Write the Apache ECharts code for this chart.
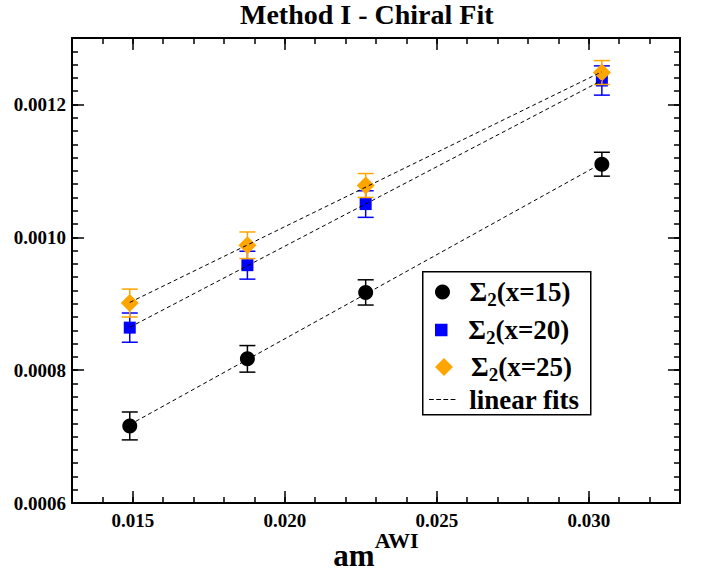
<!DOCTYPE html>
<html>
<head>
<meta charset="utf-8">
<script src="https://cdn.jsdelivr.net/npm/echarts@6/dist/echarts.min.js"></script>
<style>
  html, body { margin: 0; padding: 0; background: #fff; }
  #chart { width: 702px; height: 573px; }
</style>
</head>
<body>
<div id="chart"></div>
<script>
// ---- data ----
const xValues = [0.01490, 0.01877, 0.02266, 0.03043];

const sigma15 = [0.000716, 0.000817, 0.000917, 0.001110];
const err15   = [0.000021, 0.000020, 0.000019, 0.000018];

const sigma20 = [0.000864, 0.000958, 0.001050, 0.001236];
const err20   = [0.000022, 0.000021, 0.000020, 0.000022];

const sigma25 = [0.000901, 0.000988, 0.001078, 0.001248];
const err25   = [0.000021, 0.000020, 0.000018, 0.000018];

const seriesNames = ['Σ2(x=15)', 'Σ2(x=20)', 'Σ2(x=25)'];
const fitName = 'linear fits';

const xTickLabels = [0.015, 0.020, 0.025, 0.030];
const yTickLabels = [0.0006, 0.0008, 0.0010, 0.0012];

const titleText = 'Method I - Chiral Fit';

// ---- helpers ----
const FONT = "'Liberation Serif', 'Times New Roman', serif";
const xMin = 0.013, xMax = 0.033, yMin = 0.0006, yMax = 0.0013;

const xMinor = [];
for (let i = 0; i <= 20; i++) xMinor.push(+(xMin + i * 0.001).toFixed(4));
const yMinor = [];
for (let i = 0; i <= 35; i++) yMinor.push(+(yMin + i * 0.00002).toFixed(6));

function linFit(xs, ys) {
  const n = xs.length;
  let sx = 0, sy = 0, sxx = 0, sxy = 0;
  for (let i = 0; i < n; i++) { sx += xs[i]; sy += ys[i]; sxx += xs[i] * xs[i]; sxy += xs[i] * ys[i]; }
  const b = (n * sxy - sx * sy) / (n * sxx - sx * sx);
  const a = (sy - b * sx) / n;
  return [a, b];
}

const sets = [
  { name: seriesNames[0], y: sigma15, e: err15, color: '#000000', symbol: 'circle', size: 15, icon: 'circle', iconH: 15 },
  { name: seriesNames[1], y: sigma20, e: err20, color: '#0000ff', symbol: 'rect', size: 12, icon: 'path://M0,0h10v10h-10z', iconH: 12.5 },
  { name: seriesNames[2], y: sigma25, e: err25, color: '#ffa500', symbol: 'diamond', size: 18, icon: 'path://M5,0L10,5L5,10L0,5z', iconH: 18 }
];

const series = [];
sets.forEach(function (s, k) {
  series.push({
    type: 'custom',
    name: 'err' + k,
    xAxisIndex: 0, yAxisIndex: 0,
    z: 2 + k * 2,
    silent: true,
    data: xValues.map(function (x, i) { return [x, s.y[i], s.e[i]]; }),
    encode: { x: 0, y: 1 },
    renderItem: function (params, api) {
      const x = api.value(0), y = api.value(1), e = api.value(2);
      const top = api.coord([x, y + e]);
      const bot = api.coord([x, y - e]);
      const hw = 8;
      const st = { stroke: s.color, lineWidth: 1.5 };
      return {
        type: 'group',
        children: [
          { type: 'line', shape: { x1: top[0], y1: top[1], x2: bot[0], y2: bot[1] }, style: st },
          { type: 'line', shape: { x1: top[0] - hw, y1: top[1], x2: top[0] + hw, y2: top[1] }, style: st },
          { type: 'line', shape: { x1: bot[0] - hw, y1: bot[1], x2: bot[0] + hw, y2: bot[1] }, style: st }
        ]
      };
    }
  });
  series.push({
    type: 'scatter',
    name: s.name,
    xAxisIndex: 0, yAxisIndex: 0,
    z: 3 + k * 2,
    symbol: s.symbol,
    symbolSize: s.size,
    itemStyle: { color: s.color, opacity: 1 },
    data: xValues.map(function (x, i) { return [x, s.y[i]]; })
  });
});
sets.forEach(function (s) {
  const ab = linFit(xValues, s.y);
  const x0 = xValues[0], x1 = xValues[xValues.length - 1];
  series.push({
    type: 'line',
    name: fitName,
    xAxisIndex: 0, yAxisIndex: 0,
    z: 10,
    symbol: 'none',
    silent: true,
    itemStyle: { color: '#000' },
    lineStyle: { color: '#000', width: 1, type: [4, 3] },
    data: [[x0, ab[0] + ab[1] * x0], [x1, ab[0] + ab[1] * x1]]
  });
});

const legendRich = {
  m: { fontFamily: FONT, fontWeight: 'bold', fontSize: 27, color: '#000', lineHeight: 28 },
  sub: { fontFamily: FONT, fontWeight: 'bold', fontSize: 19, color: '#000', lineHeight: 19, padding: [15, 0, 0, 0] }
};
function legendFormatter(name) {
  if (name.indexOf('Σ2') === 0) return '{m|Σ}{sub|2}{m|' + name.slice(2) + '}';
  return '{m|' + name + '}';
}
const rowCenters = [292, 330, 367, 400];
const legends = sets.map(function (s, k) {
  return {
    data: [{ name: s.name, icon: s.icon }],
    left: 435, top: rowCenters[k] - 17, padding: 0,
    itemWidth: 44, itemHeight: s.iconH,
    selectedMode: false,
    textStyle: { rich: legendRich },
    formatter: legendFormatter
  };
});
legends.push({
  data: [{ name: fitName, icon: 'path://M0,0h4v1h-4zM6,0h4v1h-4zM12,0h4v1h-4zM18,0h4v1h-4z' }],
  left: 429, top: rowCenters[3] - 14, padding: 0,
  itemWidth: 44, itemHeight: 1.2,
  selectedMode: false,
  textStyle: { rich: legendRich },
  formatter: legendFormatter
});

const labelFont = { fontFamily: FONT, fontWeight: 'bold', fontSize: 19, color: '#000' };
const axisLineStyle = { color: '#000', width: 2 };
const majorTick = { color: '#000', width: 1.5 };

function xAxisDef(grid, pos, major) {
  return {
    gridIndex: grid, type: 'value', position: pos, min: xMin, max: xMax,
    axisLine: { show: major, onZero: false, lineStyle: axisLineStyle },
    axisTick: { show: true, inside: true, length: major ? 12 : 6, customValues: major ? xTickLabels : xMinor, lineStyle: majorTick },
    axisLabel: Object.assign({ show: major && pos === 'bottom', customValues: xTickLabels, margin: 8,
      formatter: function (v) { return v.toFixed(3); } }, labelFont),
    splitLine: { show: false }
  };
}
function yAxisDef(grid, pos, major) {
  return {
    gridIndex: grid, type: 'value', position: pos, min: yMin, max: yMax,
    axisLine: { show: major, onZero: false, lineStyle: axisLineStyle },
    axisTick: { show: true, inside: true, length: major ? 12 : 6, customValues: major ? yTickLabels : yMinor, lineStyle: majorTick },
    axisLabel: Object.assign({ show: major && pos === 'left', customValues: yTickLabels, margin: 6,
      formatter: function (v) { return v.toFixed(4); } }, labelFont),
    splitLine: { show: false }
  };
}

const xAxes = [xAxisDef(0, 'bottom', true), xAxisDef(0, 'top', true), xAxisDef(1, 'bottom', false), xAxisDef(1, 'top', false)];
xAxes[0].name = '{a|am}{s|AWI}';
xAxes[0].nameLocation = 'middle';
xAxes[0].nameGap = 36;
xAxes[0].nameMoveOverlap = false;
xAxes[0].nameTextStyle = {
  rich: {
    a: { fontFamily: FONT, fontWeight: 'bold', fontSize: 31, color: '#000', lineHeight: 32 },
    s: { fontFamily: FONT, fontWeight: 'bold', fontSize: 22, color: '#000', lineHeight: 22, padding: [0, 0, 29, 0] }
  }
};
const yAxes = [yAxisDef(0, 'left', true), yAxisDef(0, 'right', true), yAxisDef(1, 'left', false), yAxisDef(1, 'right', false)];

const chart = echarts.init(document.getElementById('chart'), null, { renderer: 'svg' });
chart.setOption({
  animation: false,
  backgroundColor: '#ffffff',
  title: {
    text: titleText, left: 240, top: 0, padding: 0,
    textStyle: { fontFamily: FONT, fontWeight: 'bold', fontSize: 28, color: '#000' }
  },
  grid: [
    { left: 72, right: 22, top: 38, bottom: 70, containLabel: false, outerBoundsMode: 'none' },
    { left: 72, right: 22, top: 38, bottom: 70, containLabel: false, outerBoundsMode: 'none' }
  ],
  xAxis: xAxes,
  yAxis: yAxes,
  legend: legends,
  graphic: [{
    type: 'rect', left: 422, top: 271, z: 3, silent: true,
    shape: { width: 168, height: 143 },
    style: { fill: '#fff', stroke: '#000', lineWidth: 1.5 }
  }],
  series: series
});
</script>
</body>
</html>
